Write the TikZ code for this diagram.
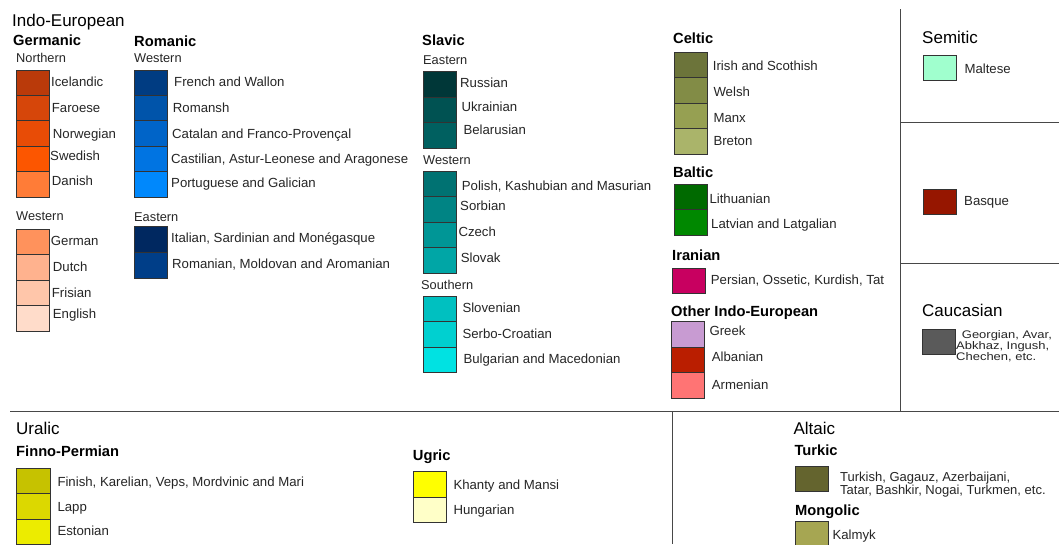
\documentclass[tikz,border=0pt]{standalone}
\usepackage{fontspec}
\setmainfont{Liberation Sans}
% a lower, wider cut for the tightly set three-line label
\newfontfamily\widefont[FakeStretch=1.18]{Liberation Sans}

% swatch colours
\definecolor{icelandic}{RGB}{186,58,10}
\definecolor{faroese}{RGB}{214,70,10}
\definecolor{norwegian}{RGB}{232,76,6}
\definecolor{swedish}{RGB}{252,86,0}
\definecolor{danish}{RGB}{255,124,55}
\definecolor{german}{RGB}{255,146,92}
\definecolor{dutch}{RGB}{255,178,142}
\definecolor{frisian}{RGB}{255,198,170}
\definecolor{english}{RGB}{255,220,202}
\definecolor{french}{RGB}{0,60,130}
\definecolor{romansh}{RGB}{0,84,170}
\definecolor{catalan}{RGB}{0,100,200}
\definecolor{castilian}{RGB}{0,116,226}
\definecolor{portuguese}{RGB}{0,136,252}
\definecolor{italian}{RGB}{0,40,96}
\definecolor{romanian}{RGB}{0,62,136}
\definecolor{russian}{RGB}{0,55,56}
\definecolor{ukrainian}{RGB}{0,82,82}
\definecolor{belarusian}{RGB}{0,96,96}
\definecolor{polish}{RGB}{0,114,114}
\definecolor{sorbian}{RGB}{0,132,132}
\definecolor{czech}{RGB}{0,150,150}
\definecolor{slovak}{RGB}{0,166,166}
\definecolor{slovenian}{RGB}{0,192,192}
\definecolor{serbocroatian}{RGB}{0,208,208}
\definecolor{bulgarian}{RGB}{0,226,226}
\definecolor{irish}{RGB}{108,116,58}
\definecolor{welsh}{RGB}{130,140,70}
\definecolor{manx}{RGB}{150,160,82}
\definecolor{breton}{RGB}{170,180,106}
\definecolor{lithuanian}{RGB}{0,106,0}
\definecolor{latvian}{RGB}{0,136,0}
\definecolor{persian}{RGB}{200,0,96}
\definecolor{greek}{RGB}{200,155,210}
\definecolor{albanian}{RGB}{186,30,0}
\definecolor{armenian}{RGB}{255,116,116}
\definecolor{maltese}{RGB}{160,255,206}
\definecolor{basque}{RGB}{150,22,0}
\definecolor{caucasian}{RGB}{90,90,90}
\definecolor{finnish}{RGB}{198,194,0}
\definecolor{lapp}{RGB}{220,216,0}
\definecolor{estonian}{RGB}{236,236,0}
\definecolor{khanty}{RGB}{255,255,0}
\definecolor{hungarian}{RGB}{255,255,200}
\definecolor{turkic}{RGB}{100,100,46}
\definecolor{kalmyk}{RGB}{166,166,82}

% one legend entry: name, colour, box x, box top, text, text x, text centre y
\newcommand\langbox[7]{%
  \node[swatch, fill=#2] (#1) at (#3,#4) {};
  \node[lbl] (#1-name) at (#6,#7) {#5};}

\begin{document}
\begin{tikzpicture}[x=1pt, y=-1pt,
  family/.style={font=\fontsize{17}{20}\selectfont, inner sep=0pt, anchor=base west},
  branch/.style={font=\fontsize{14.7}{17}\selectfont\bfseries, inner sep=0pt, anchor=base west},
  subbranch/.style={font=\fontsize{12.8}{15}\selectfont, inner sep=0pt, anchor=base west, text=black!85},
  lbl/.style={font=\fontsize{13.2}{15}\selectfont, inner sep=0pt, text height=9.5pt, text depth=0pt, anchor=west, text=black!85},
  widelbl/.style={lbl, font=\widefont\fontsize{11}{13}\selectfont, text height=8pt},
  swatch/.style={draw=black!80, line width=0.9pt, minimum width=33.4pt, minimum height=25.5pt, inner sep=0pt, outer sep=0pt, anchor=north west},
  divider/.style={draw=black!72, line width=1pt}]

\useasboundingbox[fill=white] (0,0) rectangle (1059,544);

% panel dividers
\coordinate (vtop) at (900,9);
\coordinate (vmid) at (900,411);
\coordinate (hleft) at (10,411);
\coordinate (hright) at (1059,411);
\coordinate (r1a) at (900,122);
\coordinate (r1b) at (1059,122);
\coordinate (r2a) at (900,263);
\coordinate (r2b) at (1059,263);
\coordinate (btop) at (672.3,411);
\coordinate (bbot) at (672.3,544);
\draw[divider] (vtop) -- (vmid);
\draw[divider] (hleft) -- (hright);
\draw[divider] (r1a) -- (r1b);
\draw[divider] (r2a) -- (r2b);
\draw[divider] (btop) -- (bbot);

% ---------------- Indo-European ----------------
\node[family] (ie) at (12,26) {Indo-European};

% Germanic
\node[branch] (germanic) at (13,45) {Germanic};
\node[subbranch] (gern) at (16,62.5) {Northern};
\langbox{icel}{icelandic}{16}{70}{Icelandic}{51}{82}
\langbox{faro}{faroese}{16}{95.4}{Faroese}{51.7}{107.3}
\langbox{norw}{norwegian}{16}{120.8}{Norwegian}{52.7}{133.3}
\langbox{swed}{swedish}{16}{146.2}{Swedish}{50}{155.7}
\langbox{dani}{danish}{16}{171.6}{Danish}{51.7}{180.7}
\node[subbranch] (gerw) at (16,220.7) {Western};
\langbox{germ}{german}{16}{229.3}{German}{50.7}{241}
\langbox{dutc}{dutch}{16}{254.8}{Dutch}{52.7}{266.7}
\langbox{fris}{frisian}{16}{280.3}{Frisian}{51.7}{292.7}
\langbox{engl}{english}{16}{305.8}{English}{52.7}{314}

% Romanic
\node[branch] (romanic) at (134,46) {Romanic};
\node[subbranch] (romw) at (134,62.7) {Western};
\langbox{fren}{french}{134}{70}{French and Wallon}{174}{81.3}
\langbox{roma}{romansh}{134}{95.4}{Romansh}{172.7}{107.7}
\langbox{cata}{catalan}{134}{120.8}{Catalan and Franco-Provençal}{172}{134}
\langbox{cast}{castilian}{134}{146.2}{Castilian, Astur-Leonese and Aragonese}{171}{158.3}
\langbox{port}{portuguese}{134}{171.6}{Portuguese and Galician}{171}{182.7}
\node[subbranch] (rome) at (134,221.2) {Eastern};
\langbox{ital}{italian}{134}{226.7}{Italian, Sardinian and Monégasque}{171}{238}
\langbox{romn}{romanian}{134}{252.5}{Romanian, Moldovan and Aromanian}{172}{264}

% Slavic
\node[branch] (slavic) at (422,45.7) {Slavic};
\node[subbranch] (slae) at (423,64) {Eastern};
\langbox{russ}{russian}{423.3}{71.7}{Russian}{460}{82.3}
\langbox{ukra}{ukrainian}{423.3}{97.2}{Ukrainian}{461.3}{106.3}
\langbox{bela}{belarusian}{423.3}{122.7}{Belarusian}{463.3}{130}
\node[subbranch] (slaw) at (423,164.7) {Western};
\langbox{poli}{polish}{423.3}{171}{Polish, Kashubian and Masurian}{461.7}{185.7}
\langbox{sorb}{sorbian}{423.3}{196.5}{Sorbian}{460}{206}
\langbox{czec}{czech}{423.3}{222}{Czech}{458.3}{232}
\langbox{slok}{slovak}{423.3}{247.5}{Slovak}{460.7}{258}
\node[subbranch] (slas) at (421,289.5) {Southern};
\langbox{slov}{slovenian}{423.3}{296}{Slovenian}{462.3}{308}
\langbox{serb}{serbocroatian}{423.3}{321.5}{Serbo-Croatian}{462.3}{334}
\langbox{bulg}{bulgarian}{423.3}{347}{Bulgarian and Macedonian}{463.3}{359}

% Celtic
\node[branch] (celtic) at (673,43.3) {Celtic};
\langbox{iris}{irish}{674.3}{52.3}{Irish and Scothish}{712.7}{65.7}
\langbox{wels}{welsh}{674.3}{77.8}{Welsh}{713.3}{92}
\langbox{manx}{manx}{674.3}{103.3}{Manx}{713.3}{118}
\langbox{bret}{breton}{674.3}{128.8}{Breton}{713.3}{140.7}

% Baltic
\node[branch] (baltic) at (673,177.7) {Baltic};
\langbox{lith}{lithuanian}{674}{184}{Lithuanian}{709.3}{198.3}
\langbox{latv}{latvian}{674}{209.5}{Latvian and Latgalian}{711}{223.3}

% Iranian
\node[branch] (iranian) at (672,260) {Iranian};
\langbox{pers}{persian}{672.3}{268.3}{Persian, Ossetic, Kurdish, Tat}{710.7}{279.3}

% Other Indo-European
\node[branch] (otherie) at (671,316.5) {Other Indo-European};
\langbox{gree}{greek}{671.3}{321.7}{Greek}{709.3}{331}
\langbox{alba}{albanian}{671.3}{347.2}{Albanian}{711.7}{356.7}
\langbox{arme}{armenian}{671.3}{372.7}{Armenian}{711.7}{384.3}

% ---------------- right column ----------------
\node[family] (semitic) at (922,43.3) {Semitic};
\langbox{malt}{maltese}{923}{55.3}{Maltese}{964.3}{68.3}

\langbox{basq}{basque}{923}{189.3}{Basque}{964}{201}

\node[family] (caucasus) at (922,316) {Caucasian};
\node[swatch, fill=caucasian] (cauc) at (922.3,329.3) {};
\node[widelbl] (cauc-l1) at (961.7,334.3) {Georgian, Avar,};
\node[widelbl] (cauc-l2) at (956,345.6) {Abkhaz, Ingush,};
\node[widelbl] (cauc-l3) at (956,356.8) {Chechen, etc.};

% ---------------- Uralic ----------------
\node[family] (uralic) at (16,434.3) {Uralic};
\node[branch] (finnoperm) at (16,456.7) {Finno-Permian};
\langbox{finn}{finnish}{16.7}{468.3}{Finish, Karelian, Veps, Mordvinic and Mari}{57.3}{481.7}
\langbox{lapp}{lapp}{16.7}{493.8}{Lapp}{57.3}{506.7}
\langbox{esto}{estonian}{16.7}{519.3}{Estonian}{57.3}{530.7}

\node[branch] (ugric) at (412.7,460) {Ugric};
\langbox{khan}{khanty}{413.3}{471.7}{Khanty and Mansi}{453.3}{485}
\langbox{hung}{hungarian}{413.3}{497.2}{Hungarian}{453.3}{509.3}

% ---------------- Altaic ----------------
\node[family] (altaic) at (793.3,434.3) {Altaic};
\node[branch] (turkicb) at (794.3,455) {Turkic};
\node[swatch, fill=turkic] (turk) at (795,466) {};
\node[lbl, font=\fontsize{13}{15}\selectfont] (turk-l1) at (840,476.7) {Turkish, Gagauz, Azerbaijani,};
\node[lbl, font=\fontsize{13}{15}\selectfont] (turk-l2) at (840,490) {Tatar, Bashkir, Nogai, Turkmen, etc.};
\node[branch] (mongolic) at (795,515) {Mongolic};
\langbox{kalm}{kalmyk}{795}{521}{Kalmyk}{832.3}{534.3}

\end{tikzpicture}
\end{document}
